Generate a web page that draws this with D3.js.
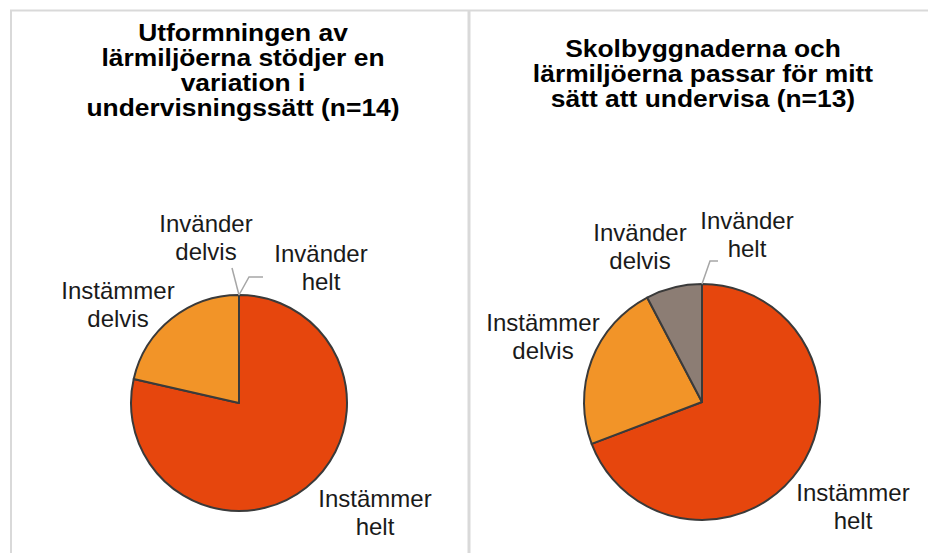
<!DOCTYPE html>
<html><head><meta charset="utf-8">
<script src="https://cdn.jsdelivr.net/npm/d3@7"></script>
<style>body{margin:0;background:#fff}svg{display:block;font-family:"Liberation Sans",Arial,sans-serif}</style>
</head><body><svg id="c" width="928" height="553"></svg>
<script>
const categories = ["Instämmer helt", "Instämmer delvis", "Invänder delvis", "Invänder helt"];
const labelLines = [["Instämmer","helt"],["Instämmer","delvis"],["Invänder","delvis"],["Invänder","helt"]];
const colors = ["#E6460D", "#F29428", "#8C7D74", "#7F7F7F"];
const title1 = ["Utformningen av", "lärmiljöerna stödjer en", "variation i", "undervisningssätt (n=14)"];
const values1 = [11, 3, 0, 0];
const title2 = ["Skolbyggnaderna och", "lärmiljöerna passar för mitt", "sätt att undervisa (n=13)"];
const values2 = [9, 3, 1, 0];

const svg = d3.select("#c");
// panel borders
svg.append("line").attr("x1",10).attr("x2",928).attr("y1",10.5).attr("y2",10.5).attr("stroke","#d9d9d9").attr("stroke-width",2);
svg.append("line").attr("x1",11).attr("x2",11).attr("y1",10).attr("y2",553).attr("stroke","#d9d9d9").attr("stroke-width",2);
svg.append("line").attr("x1",469).attr("x2",469).attr("y1",10).attr("y2",553).attr("stroke","#d9d9d9").attr("stroke-width",3);

const pie = d3.pie().sort(null).value(d=>d);

function drawPie(cfg){
  const g = svg.append("g");
  const t = g.append("text").attr("text-anchor","middle").attr("font-weight","bold")
    .attr("font-size",cfg.titleSize).attr("fill","#000")
    .attr("transform",`translate(${cfg.tx},0) scale(1.1,1)`);
  cfg.title.forEach((l,i)=>t.append("tspan").attr("x",0).attr("y",cfg.ty+i*25).text(l));
  const arcs = pie(cfg.values);
  const arc = d3.arc().innerRadius(0).outerRadius(cfg.r);
  const pg = g.append("g").attr("transform",`translate(${cfg.cx},${cfg.cy})`);
  pg.selectAll("path").data(arcs.filter(a=>a.data>0)).join("path")
    .attr("d",arc).attr("fill",(d)=>colors[d.index])
    .attr("stroke","#3a3a3a").attr("stroke-width",2).attr("stroke-linejoin","round");
  // labels
  arcs.forEach((a,i)=>{
    const L = cfg.labels[i];
    const lt = g.append("text").attr("text-anchor","middle").attr("font-size",24).attr("fill","#1a1a1a");
    labelLines[i].forEach((s,k)=>lt.append("tspan").attr("x",L.x).attr("y",L.y+k*28).text(s));
    if (L.leader){
      const ang = (a.startAngle+a.endAngle)/2;
      const p0 = [cfg.cx + cfg.r*Math.sin(ang), cfg.cy - cfg.r*Math.cos(ang)];
      const pts = [p0].concat(L.leader);
      g.append("path").attr("d",d3.line()(pts)).attr("fill","none").attr("stroke","#a6a6a6").attr("stroke-width",1.5);
    }
  });
}

drawPie({title:title1, titleSize:24, tx:243, ty:41, values:values1, cx:239, cy:403, r:108,
  labels:[{x:375,y:507},{x:118,y:299},{x:206,y:232,leader:[[232,268]]},{x:321,y:262,leader:[[249,277],[263,277]]}]});
drawPie({title:title2, titleSize:24, tx:703, ty:57, values:values2, cx:702, cy:402, r:118,
  labels:[{x:853,y:501},{x:543,y:331},{x:640,y:241},{x:747,y:229,leader:[[710,261],[718,261]]}]});
</script></body></html>
